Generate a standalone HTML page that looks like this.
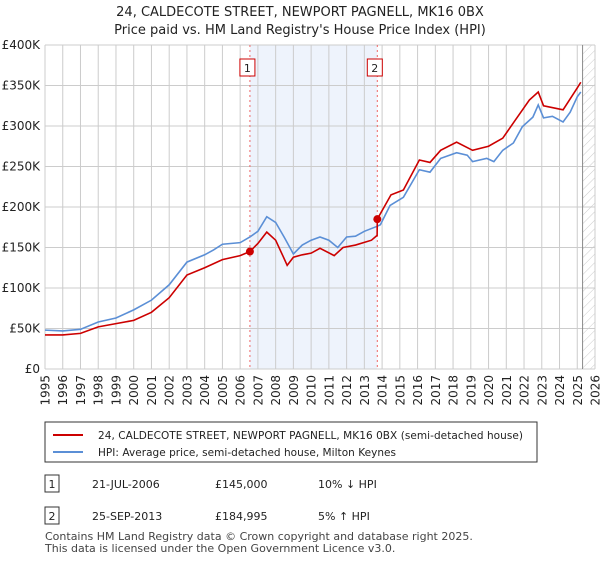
<!DOCTYPE html>
<html><head><meta charset="utf-8"><style>
body{margin:0;background:#fff;font-family:"Liberation Sans","DejaVu Sans",sans-serif;}
svg text{font-family:"DejaVu Sans","Liberation Sans",sans-serif;}
</style></head><body>
<svg width="600" height="560" xmlns="http://www.w3.org/2000/svg">
<defs><pattern id="hatch" width="6" height="6" patternUnits="userSpaceOnUse" patternTransform="rotate(45)"><line x1="0" y1="0" x2="0" y2="6" stroke="#ccc" stroke-width="1"/></pattern></defs>
<text x="300" y="16" text-anchor="middle" font-size="13" fill="#222">24, CALDECOTE STREET, NEWPORT PAGNELL, MK16 0BX</text>
<text x="300" y="34" text-anchor="middle" font-size="13" fill="#222">Price paid vs. HM Land Registry's House Price Index (HPI)</text>
<g id="plot"></g>
<g>
<rect x="45" y="422" width="492" height="40" fill="#fff" stroke="#333"/>
<line x1="53" y1="435" x2="83" y2="435" stroke="#cc0000" stroke-width="2"/>
<text x="98" y="439" font-size="10.5" fill="#222" textLength="425">24, CALDECOTE STREET, NEWPORT PAGNELL, MK16 0BX (semi-detached house)</text>
<line x1="53" y1="452" x2="83" y2="452" stroke="#5b8fd6" stroke-width="2"/>
<text x="98" y="456" font-size="10.5" fill="#222" textLength="298">HPI: Average price, semi-detached house, Milton Keynes</text>
</g>
<g font-size="11" fill="#222">
<rect x="45" y="475" width="14" height="17" fill="#fff" stroke="#333"/><text x="52" y="488" text-anchor="middle">1</text>
<text x="92" y="488">21-JUL-2006</text><text x="215" y="488">£145,000</text><text x="318" y="488">10% ↓ HPI</text>
<rect x="45" y="507" width="14" height="17" fill="#fff" stroke="#333"/><text x="52" y="520" text-anchor="middle">2</text>
<text x="92" y="520">25-SEP-2013</text><text x="215" y="520">£184,995</text><text x="318" y="520">5% ↑ HPI</text>
</g>
<text x="45" y="540" font-size="11" fill="#444">Contains HM Land Registry data © Crown copyright and database right 2025.</text>
<text x="45" y="552" font-size="11" fill="#444">This data is licensed under the Open Government Licence v3.0.</text>
</svg>
<script>
const hpiYears=[1995,1996,1997,1998,1999,2000,2001,2002,2003,2004,2004.5,2005,2006,2006.55,2007,2007.5,2008,2008.5,2009,2009.5,2010,2010.5,2011,2011.5,2012,2012.5,2013,2013.7,2013.9,2014.45,2015.2,2016.1,2016.7,2017.3,2018.2,2018.8,2019.1,2019.9,2020.3,2020.8,2021.4,2021.9,2022.5,2022.8,2023.1,2023.6,2024.2,2024.6,2025.0,2025.2];
const hpiValues=[48000,47000,49000,58000,63000,73000,85000,104000,132000,141000,147000,154000,156000,163000,170000,188000,181000,162000,142000,153000,159000,163000,159000,150000,163000,164000,170000,176000,178000,202000,212000,246000,243000,260000,267000,264000,256000,260000,256000,270000,279000,299000,311000,326000,310000,312000,305000,317000,336000,342000];
const priceYears=[1995,1996,1997,1998,1999,2000,2001,2002,2003,2004,2005,2006,2006.55,2007,2007.5,2008,2008.4,2008.65,2009,2009.5,2010,2010.5,2011.3,2011.8,2012.5,2013.4,2013.72,2013.73,2014.5,2015.2,2016.1,2016.7,2017.3,2018.2,2019.1,2020,2020.8,2021.5,2022.3,2022.8,2023.1,2024.2,2025.0,2025.2];
const priceValues=[42000,42000,44000,52000,56000,60000,70000,88000,116000,125000,135000,140000,145000,155000,169000,159000,140000,128000,138000,141000,143000,149000,140000,150000,153000,159000,165000,184995,215000,221000,258000,255000,270000,280000,270000,275000,285000,307000,332000,342000,325000,320000,347000,354000];
const saleYears=[2006.55,2013.73];
const saleValues=[145000,184995];
const saleLabels=["1","2"];
const yTicks=[0,50000,100000,150000,200000,250000,300000,350000,400000];
const yTickLabels=["£0","£50K","£100K","£150K","£200K","£250K","£300K","£350K","£400K"];
const xTicks=[1995,1996,1997,1998,1999,2000,2001,2002,2003,2004,2005,2006,2007,2008,2009,2010,2011,2012,2013,2014,2015,2016,2017,2018,2019,2020,2021,2022,2023,2024,2025,2026];

const X0=45,X1=595,Y0=369,Y1=45;
const x=y=>X0+(y-1995)/(2026-1995)*(X1-X0);
const yv=v=>Y0-v/400000*(Y0-Y1);
const NS="http://www.w3.org/2000/svg";
const g=document.getElementById('plot');
function mk(t,a){const e=document.createElementNS(NS,t);for(const k in a)e.setAttribute(k,a[k]);g.appendChild(e);return e;}
let e;
e=mk('rect',{x:x(saleYears[0]),y:Y1,width:x(saleYears[1])-x(saleYears[0]),height:Y0-Y1,fill:'#eef3fc'});


e=mk('rect',{x:x(2025.3),y:Y1,width:X1-x(2025.3),height:Y0-Y1,fill:'url(#hatch)'});


xTicks.forEach(t=>{
 e=mk('line',{x1:x(t),x2:x(t),y1:Y1,y2:Y0,stroke:'#ccc'});
 
 
 const tx=x(t)+4.5, ty=375;
 e=mk('text',{x:tx,y:ty,'text-anchor':'end','font-size':12,fill:'#222',transform:`rotate(-90 ${tx} ${ty})`});e.textContent=t;
 
 
});
yTicks.forEach((t,i)=>{
 e=mk('line',{x1:X0,x2:X1,y1:yv(t),y2:yv(t),stroke:'#ccc'});
 
 
 e=mk('text',{x:40,y:yv(t)+4,'text-anchor':'end','font-size':12,fill:'#222'});e.textContent=yTickLabels[i];
 
 
});
e=mk('line',{x1:x(2025.3),x2:x(2025.3),y1:Y1,y2:Y0,stroke:'#888'});


saleYears.forEach((s,i)=>{
 e=mk('line',{x1:x(s),x2:x(s),y1:Y1,y2:Y0,stroke:'#e66','stroke-dasharray':'2,3'});
 
 
 e=mk('rect',{x:x(s)-10,y:59,width:15,height:17,fill:'#fff',stroke:'#cc0000'});
 
 
 e=mk('text',{x:x(s)-2.5,y:72,'text-anchor':'middle','font-size':11,fill:'#222'});e.textContent=saleLabels[i];
 
 
});
e=mk('polyline',{points:hpiYears.map((t,i)=>x(t)+','+yv(hpiValues[i])).join(' '),fill:'none',stroke:'#5b8fd6','stroke-width':1.6});


e=mk('polyline',{points:priceYears.map((t,i)=>x(t)+','+yv(priceValues[i])).join(' '),fill:'none',stroke:'#cc0000','stroke-width':1.6});


saleYears.forEach((s,i)=>{
 e=mk('circle',{cx:x(s),cy:yv(saleValues[i]),r:4,fill:'#cc0000'});
 
 
});
</script>
</body></html>
